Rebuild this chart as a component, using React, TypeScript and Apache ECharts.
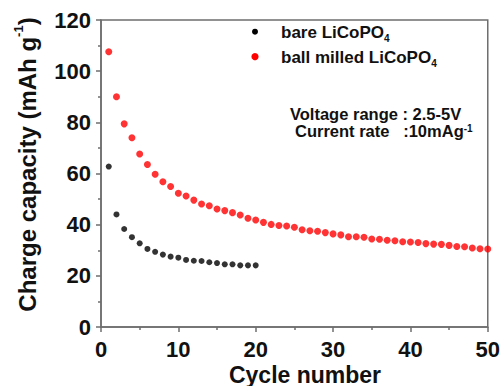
import React, { useEffect, useRef } from "react";
import * as echarts from "echarts";

const cycles = [1,2,3,4,5,6,7,8,9,10,11,12,13,14,15,16,17,18,19,20,21,22,23,24,25,26,27,28,29,30,31,32,33,34,35,36,37,38,39,40,41,42,43,44,45,46,47,48,49,50];
const bareCapacity = [62.7,44.0,38.3,35.1,32.7,30.5,29.4,28.3,27.5,27.1,26.2,25.9,25.8,25.3,25.0,24.5,24.5,24.1,24.1,24.1];
const milledCapacity = [107.6,90.0,79.4,74.0,67.6,63.5,59.7,56.8,54.9,52.3,51.2,49.6,48.1,47.4,46.1,45.5,44.7,43.8,42.5,41.8,40.9,40.1,39.7,39.5,39.0,38.0,37.6,37.4,36.9,36.4,36.0,35.3,35.3,35.1,34.4,34.3,33.9,33.7,33.3,33.2,33.0,32.6,32.4,32.3,31.9,31.5,31.4,30.9,30.6,30.5];
const seriesNames = ["bare LiCoPO", "ball milled LiCoPO"];
const xTitle = "Cycle number";
const yTitle = "Charge capacity (mAh g";
const note1 = "Voltage range : 2.5-5V";
const note2 = "Current rate   :10mAg";

const FONT = "'Liberation Sans', Arial, sans-serif";
const TXT = "#111";
const AX = "#6e6e6e";

export default function App() {
  const ref = useRef<HTMLDivElement>(null);
  useEffect(() => {
    const chart = echarts.init(ref.current!, null, { renderer: "svg" });
    const bare = bareCapacity.map((v, i) => [cycles[i], v]);
    const milled = milledCapacity.map((v, i) => [cycles[i], v]);
    const axisCommon = {
      axisLine: { show: true, lineStyle: { color: AX, width: 1.5 } },
      axisTick: { show: true, inside: false, length: 5, lineStyle: { color: AX, width: 1.5 } },
      minorTick: { show: true, splitNumber: 2, length: 3, lineStyle: { color: AX, width: 1.5 } },
      splitLine: { show: false },
      axisLabel: { fontFamily: FONT, fontWeight: "bold", fontSize: 22, color: TXT },
    };
    chart.setOption({
      animation: false,
      grid: { left: 101, right: 11, top: 20, bottom: 59, show: true, borderColor: AX, borderWidth: 1.5 },
      xAxis: {
        type: "value", min: 0, max: 50, interval: 10,
        ...axisCommon,
        axisLabel: { ...axisCommon.axisLabel, margin: 11 },
      },
      yAxis: {
        type: "value", min: 0, max: 120, interval: 20,
        ...axisCommon,
        axisLabel: { ...axisCommon.axisLabel, margin: 10 },
      },
      series: [
        { type: "scatter", name: seriesNames[0], data: bare, symbolSize: 6, itemStyle: { color: "#000" } },
        { type: "scatter", name: seriesNames[1], data: milled, symbolSize: 7, itemStyle: { color: "#ff0000" } },
      ],
      graphic: [
        { type: "circle", shape: { cx: 255, cy: 31.7, r: 3 }, style: { fill: "#000" } },
        { type: "circle", shape: { cx: 255, cy: 56.7, r: 3.6 }, style: { fill: "#ff0000" } },
        {
          type: "text", x: 281, y: 32.5,
          style: {
            text: "{a|" + seriesNames[0] + "}{s|4}", textVerticalAlign: "middle", fill: TXT,
            rich: {
              a: { fontFamily: FONT, fontWeight: "bold", fontSize: 17, lineHeight: 22, verticalAlign: "middle" },
              s: { fontFamily: FONT, fontWeight: "bold", fontSize: 10, lineHeight: 22, verticalAlign: "bottom" },
            },
          },
        },
        {
          type: "text", x: 281, y: 57.5,
          style: {
            text: "{a|" + seriesNames[1] + "}{s|4}", textVerticalAlign: "middle", fill: TXT,
            rich: {
              a: { fontFamily: FONT, fontWeight: "bold", fontSize: 17, lineHeight: 22, verticalAlign: "middle" },
              s: { fontFamily: FONT, fontWeight: "bold", fontSize: 10, lineHeight: 22, verticalAlign: "bottom" },
            },
          },
        },
        {
          type: "text", x: 290, y: 114,
          style: { text: note1, fontFamily: FONT, fontWeight: "bold", fontSize: 16.5, fill: TXT, textVerticalAlign: "middle" },
        },
        {
          type: "text", x: 295, y: 131,
          style: {
            text: "{a|" + note2 + "}{p|-1}", textVerticalAlign: "middle", fill: TXT,
            rich: {
              a: { fontFamily: FONT, fontWeight: "bold", fontSize: 16.5, lineHeight: 16, verticalAlign: "middle" },
              p: { fontFamily: FONT, fontWeight: "bold", fontSize: 10, lineHeight: 16, verticalAlign: "top" },
            },
          },
        },
        {
          type: "text", x: 305, y: 374.5,
          style: { text: xTitle, fontFamily: FONT, fontWeight: "bold", fontSize: 23, fill: TXT, textAlign: "center", textVerticalAlign: "middle" },
        },
        {
          type: "text", x: 27, y: 164.5, rotation: Math.PI / 2,
          style: {
            text: "{a|" + yTitle + "}{p|-1}{a|)}", textAlign: "center", textVerticalAlign: "middle", fill: TXT,
            rich: {
              a: { fontFamily: FONT, fontWeight: "bold", fontSize: 24, lineHeight: 30, verticalAlign: "middle" },
              p: { fontFamily: FONT, fontWeight: "bold", fontSize: 13, lineHeight: 30, verticalAlign: "top" },
            },
          },
        },
      ],
    });
    return () => chart.dispose();
  }, []);
  return <div ref={ref} style={{ position: "absolute", left: 0, top: 0, width: 503, height: 386 }} />;
}
